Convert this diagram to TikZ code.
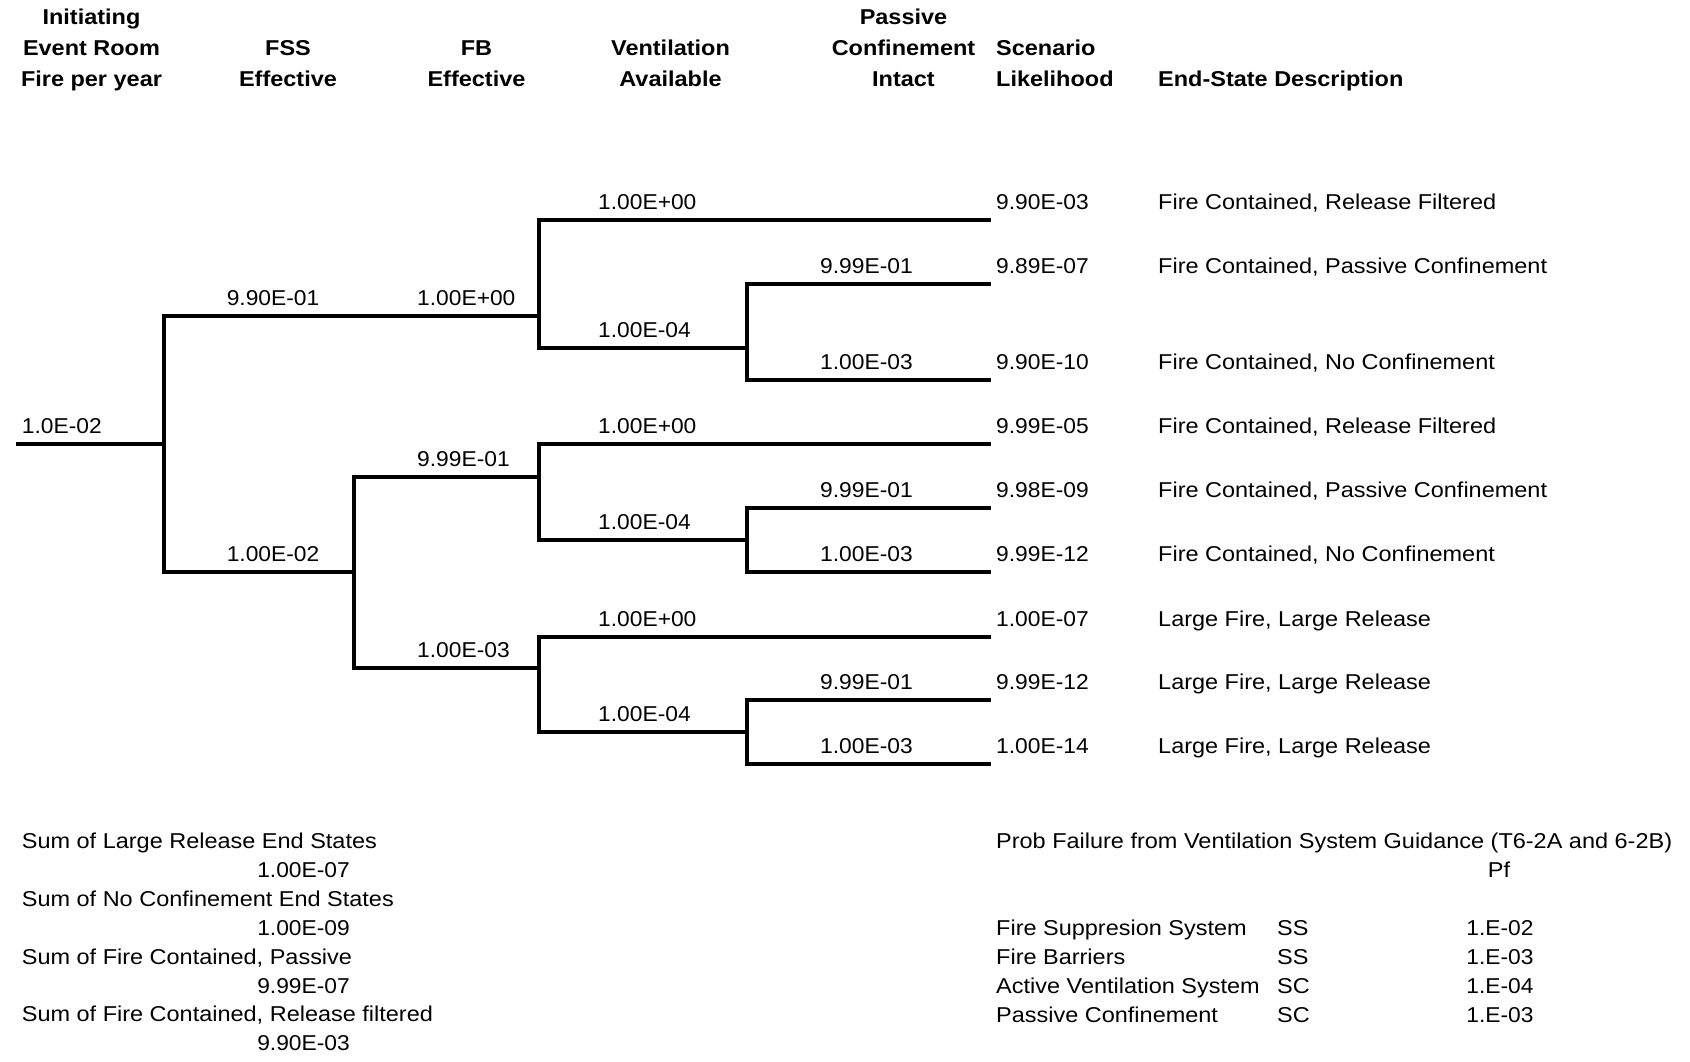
\documentclass[tikz,border=0pt]{standalone}
\usepackage{fontspec}
\setmainfont{Liberation Sans}[FakeStretch=1.092]
\newfontfamily\numfont{Liberation Sans}[FakeStretch=1.06]
\begin{document}
\begin{tikzpicture}[x=1pt,y=-1pt,
  tree/.style={line width=4.5pt,line join=miter,black},
  txt/.style={inner sep=0pt,font=\fontsize{21.5}{26}\selectfont},
  num/.style={inner sep=0pt,font=\fontsize{21.5}{26}\selectfont\numfont},
  lbl/.style={txt,anchor=base west},
  nlbl/.style={num,anchor=base west},
  hdr/.style={txt,anchor=base,font=\fontsize{21.5}{26}\selectfont\bfseries},
  hdrl/.style={hdr,anchor=base west}]
\useasboundingbox (0,0) rectangle (1690,1062);
% headers
\node[hdr] (h1a) at (91.5,25) {Initiating};
\node[hdr] (h1b) at (91.5,55.5) {Event Room};
\node[hdr] (h1c) at (91.5,86.5) {Fire per year};
\node[hdr] (h2b) at (288,55.5) {FSS};
\node[hdr] (h2c) at (288,86.5) {Effective};
\node[hdr] (h3b) at (476.5,55.5) {FB};
\node[hdr] (h3c) at (476.5,86.5) {Effective};
\node[hdr] (h4b) at (670.5,55.5) {Ventilation};
\node[hdr] (h4c) at (670.5,86.5) {Available};
\node[hdr] (h5a) at (903.5,25) {Passive};
\node[hdr] (h5b) at (903.5,55.5) {Confinement};
\node[hdr] (h5c) at (903.5,86.5) {Intact};
\node[hdrl] (h6b) at (996,55.5) {Scenario};
\node[hdrl] (h6c) at (996,86.5) {Likelihood};
\node[hdrl] (h7c) at (1158,86.5) {End-State Description};
% tree coordinates
\coordinate (i0) at (16,444);
\coordinate (fss) at (164,444);
\coordinate (fssU) at (164,316);
\coordinate (fssD) at (164,572);
\coordinate (v1) at (539,316);
\coordinate (v1U) at (539,220);
\coordinate (v1D) at (539,348);
\coordinate (p1) at (747,348);
\coordinate (p1U) at (747,284);
\coordinate (p1D) at (747,380);
\coordinate (fb) at (354,572);
\coordinate (fbU) at (354,477);
\coordinate (fbD) at (354,668);
\coordinate (v2) at (539,477);
\coordinate (v2U) at (539,444);
\coordinate (v2D) at (539,540);
\coordinate (p2) at (747,540);
\coordinate (p2U) at (747,508);
\coordinate (p2D) at (747,572);
\coordinate (v3) at (539,668);
\coordinate (v3U) at (539,637);
\coordinate (v3D) at (539,732);
\coordinate (p3) at (747,732);
\coordinate (p3U) at (747,700);
\coordinate (p3D) at (747,764);
\coordinate (end1) at (991,220);
\coordinate (end2) at (991,284);
\coordinate (end3) at (991,380);
\coordinate (end4) at (991,444);
\coordinate (end5) at (991,508);
\coordinate (end6) at (991,572);
\coordinate (end7) at (991,637);
\coordinate (end8) at (991,700);
\coordinate (end9) at (991,764);
% tree lines
\draw[tree] (i0) -- (fss);
\draw[tree] (v1) -- (fssU) -- (fssD) -- (fb);
\draw[tree] (end1) -- (v1U) -- (v1D) -- (p1);
\draw[tree] (end2) -- (p1U) -- (p1D) -- (end3);
\draw[tree] (v2) -- (fbU) -- (fbD) -- (v3);
\draw[tree] (end4) -- (v2U) -- (v2D) -- (p2);
\draw[tree] (end5) -- (p2U) -- (p2D) -- (end6);
\draw[tree] (end7) -- (v3U) -- (v3D) -- (p3);
\draw[tree] (end8) -- (p3U) -- (p3D) -- (end9);
% branch labels
\node[nlbl] (l0) at (21.7,433) {1.0E-02};
\node[nlbl] (lf1) at (226.6,305) {9.90E-01};
\node[nlbl] (lf2) at (226.6,561) {1.00E-02};
\node[nlbl] (lb1) at (417,305) {1.00E+00};
\node[nlbl] (lb2) at (417,466) {9.99E-01};
\node[nlbl] (lb3) at (417,657) {1.00E-03};
\node[nlbl] (lv1) at (598,209) {1.00E+00};
\node[nlbl] (lv2) at (598,337) {1.00E-04};
\node[nlbl] (lv3) at (598,433) {1.00E+00};
\node[nlbl] (lv4) at (598,529) {1.00E-04};
\node[nlbl] (lv5) at (598,626) {1.00E+00};
\node[nlbl] (lv6) at (598,721) {1.00E-04};
\node[nlbl] (lp1) at (820,273) {9.99E-01};
\node[nlbl] (lp2) at (820,369) {1.00E-03};
\node[nlbl] (lp3) at (820,497) {9.99E-01};
\node[nlbl] (lp4) at (820,561) {1.00E-03};
\node[nlbl] (lp5) at (820,689) {9.99E-01};
\node[nlbl] (lp6) at (820,753) {1.00E-03};
% likelihoods
\node[nlbl] (s1) at (996,209) {9.90E-03};
\node[nlbl] (s2) at (996,273) {9.89E-07};
\node[nlbl] (s3) at (996,369) {9.90E-10};
\node[nlbl] (s4) at (996,433) {9.99E-05};
\node[nlbl] (s5) at (996,497) {9.98E-09};
\node[nlbl] (s6) at (996,561) {9.99E-12};
\node[nlbl] (s7) at (996,626) {1.00E-07};
\node[nlbl] (s8) at (996,689) {9.99E-12};
\node[nlbl] (s9) at (996,753) {1.00E-14};
% descriptions
\node[lbl] (d1) at (1158,209) {Fire Contained, Release Filtered};
\node[lbl] (d2) at (1158,273) {Fire Contained, Passive Confinement};
\node[lbl] (d3) at (1158,369) {Fire Contained, No Confinement};
\node[lbl] (d4) at (1158,433) {Fire Contained, Release Filtered};
\node[lbl] (d5) at (1158,497) {Fire Contained, Passive Confinement};
\node[lbl] (d6) at (1158,561) {Fire Contained, No Confinement};
\node[lbl] (d7) at (1158,626) {Large Fire, Large Release};
\node[lbl] (d8) at (1158,689) {Large Fire, Large Release};
\node[lbl] (d9) at (1158,753) {Large Fire, Large Release};
% sums
\node[lbl] (t1) at (21.7,848) {Sum of Large Release End States};
\node[num,anchor=base east] (t1v) at (350,877) {1.00E-07};
\node[lbl] (t2) at (21.7,906) {Sum of No Confinement End States};
\node[num,anchor=base east] (t2v) at (350,935) {1.00E-09};
\node[lbl] (t3) at (21.7,964) {Sum of Fire Contained, Passive};
\node[num,anchor=base east] (t3v) at (350,993) {9.99E-07};
\node[lbl] (t4) at (21.7,1021) {Sum of Fire Contained, Release filtered};
\node[num,anchor=base east] (t4v) at (350,1050) {9.90E-03};
% probability table
\node[lbl] (pt) at (996,848) {Prob Failure from Ventilation System Guidance (T6-2A and 6-2B)};
\node[txt,anchor=base] (pf) at (1499,877) {Pf};
\node[lbl] (r1) at (996,935) {Fire Suppresion System};
\node[lbl] (r1c) at (1277,935) {SS};
\node[num,anchor=base] (r1v) at (1500,935) {1.E-02};
\node[lbl] (r2) at (996,964) {Fire Barriers};
\node[lbl] (r2c) at (1277,964) {SS};
\node[num,anchor=base] (r2v) at (1500,964) {1.E-03};
\node[lbl] (r3) at (996,993) {Active Ventilation System};
\node[lbl] (r3c) at (1277,993) {SC};
\node[num,anchor=base] (r3v) at (1500,993) {1.E-04};
\node[lbl] (r4) at (996,1022) {Passive Confinement};
\node[lbl] (r4c) at (1277,1022) {SC};
\node[num,anchor=base] (r4v) at (1500,1022) {1.E-03};
\end{tikzpicture}
\end{document}
